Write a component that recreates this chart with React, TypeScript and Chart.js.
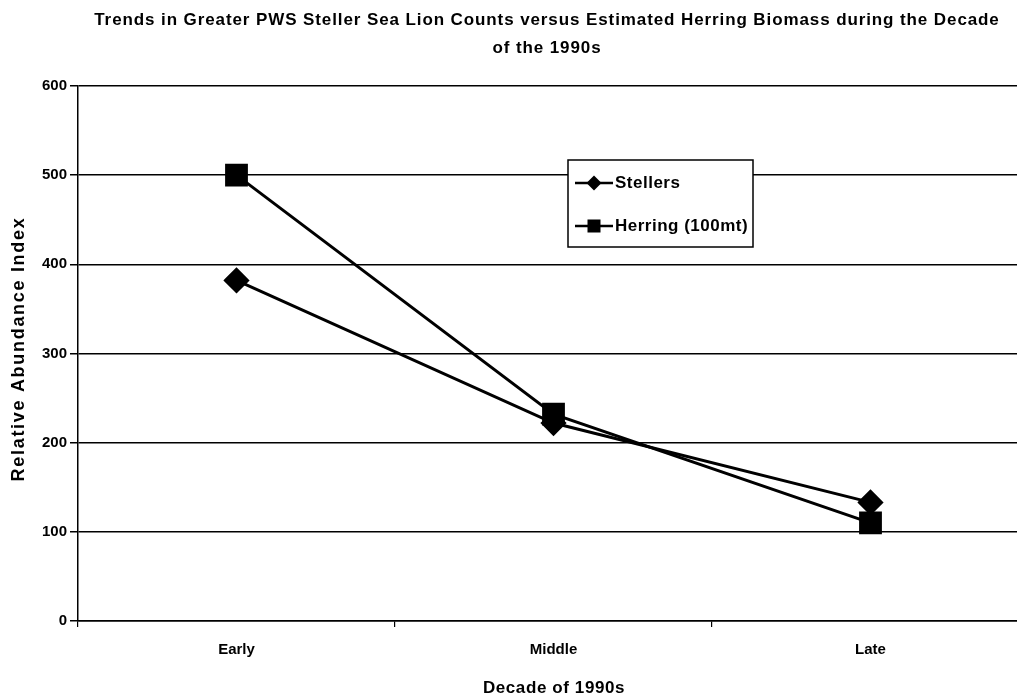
import React, { useEffect, useRef } from "react";
import { Chart, registerables } from "chart.js";

Chart.register(...registerables);

const categories = ["Early", "Middle", "Late"];
const stellers = [382, 222, 133];
const herring = [500, 232, 110];
const yTicks = [0, 100, 200, 300, 400, 500, 600];
const titleLines = [
  "Trends in Greater PWS Steller Sea Lion Counts versus Estimated Herring Biomass during the Decade",
  "of the 1990s",
];
const xTitle = "Decade of 1990s";
const yTitle = "Relative Abundance Index";
const legendLabels = ["Stellers", "Herring (100mt)"];

const FONT = "'Liberation Sans', Arial, sans-serif";
const CANVAS_W = 1046;

const textPlugin = {
  id: "customText",
  afterDraw(chart: any) {
    const ctx = chart.ctx;
    ctx.save();
    ctx.fillStyle = "#000";
    ctx.textAlign = "center";
    ctx.textBaseline = "middle";
    ctx.font = `bold 17px ${FONT}`;
    (ctx as any).letterSpacing = "0.9px";
    ctx.fillText(titleLines[0], 547, 20);
    ctx.fillText(titleLines[1], 547, 48);
    (ctx as any).letterSpacing = "0.6px";
    ctx.fillText(xTitle, 554, 688);
    ctx.translate(19, 349);
    ctx.rotate(-Math.PI / 2);
    ctx.font = `bold 18px ${FONT}`;
    (ctx as any).letterSpacing = "1.7px";
    ctx.fillText(yTitle, 0, 0);
    ctx.restore();
  },
};

const legendPlugin = {
  id: "customLegend",
  afterDraw(chart: any) {
    const ctx = chart.ctx;
    const x0 = 568, y0 = 160, w = 185, h = 87;
    ctx.save();
    ctx.fillStyle = "#fff";
    ctx.fillRect(x0, y0, w, h);
    ctx.strokeStyle = "#000";
    ctx.lineWidth = 1.5;
    ctx.strokeRect(x0, y0, w, h);
    const styles = ["diamond", "square"];
    const ys = [y0 + 23, y0 + 66];
    legendLabels.forEach((label, i) => {
      const y = ys[i];
      ctx.strokeStyle = "#000";
      ctx.lineWidth = 2.5;
      ctx.beginPath();
      ctx.moveTo(x0 + 7, y);
      ctx.lineTo(x0 + 45, y);
      ctx.stroke();
      ctx.fillStyle = "#000";
      const cx = x0 + 26;
      if (styles[i] === "diamond") {
        ctx.beginPath();
        ctx.moveTo(cx, y - 7.5);
        ctx.lineTo(cx + 7.5, y);
        ctx.lineTo(cx, y + 7.5);
        ctx.lineTo(cx - 7.5, y);
        ctx.closePath();
        ctx.fill();
      } else {
        ctx.fillRect(cx - 6.5, y - 6.5, 13, 13);
      }
      ctx.font = `bold 17px ${FONT}`;
      (ctx as any).letterSpacing = "0.5px";
      ctx.textAlign = "left";
      ctx.textBaseline = "middle";
      ctx.fillText(label, x0 + 47, y);
    });
    ctx.restore();
  },
};

export default function App() {
  const ref = useRef<HTMLCanvasElement | null>(null);
  useEffect(() => {
    if (!ref.current) return;
    const chart = new Chart(ref.current, {
      type: "line",
      data: {
        labels: categories,
        datasets: [
          {
            label: legendLabels[0],
            data: stellers,
            borderColor: "#000",
            backgroundColor: "#000",
            borderWidth: 3,
            pointStyle: "rectRot",
            pointRadius: 11,
            pointBackgroundColor: "#000",
            pointBorderColor: "#000",
            tension: 0,
          },
          {
            label: legendLabels[1],
            data: herring,
            borderColor: "#000",
            backgroundColor: "#000",
            borderWidth: 3,
            pointStyle: "rect",
            pointRadius: 14,
            pointBackgroundColor: "#000",
            pointBorderColor: "#000",
            tension: 0,
          },
        ],
      },
      options: {
        responsive: false,
        animation: false,
        devicePixelRatio: 1,
        layout: { padding: { top: 86, right: 2, left: 0, bottom: 0 } },
        plugins: {
          legend: { display: false },
          title: { display: false },
          tooltip: { enabled: false },
        },
        scales: {
          x: {
            offset: true,
            afterFit: (axis: any) => {
              axis.height = 78;
            },
            grid: {
              offset: true,
              drawOnChartArea: false,
              drawTicks: true,
              tickLength: 6,
              color: "#000",
              lineWidth: 1.2,
            },
            border: { color: "#000", width: 1.5 },
            ticks: {
              color: "#000",
              font: { family: FONT, weight: "bold", size: 15 },
              padding: 14,
            },
          },
          y: {
            min: 0,
            max: 600,
            afterFit: (axis: any) => {
              axis.width = 78;
            },
            afterBuildTicks: (axis: any) => {
              axis.ticks = yTicks.map((v) => ({ value: v }));
            },
            grid: {
              color: "#000",
              lineWidth: 1.5,
              tickLength: 8,
            },
            border: { color: "#000", width: 1.5 },
            ticks: {
              color: "#000",
              font: { family: FONT, weight: "bold", size: 15 },
              padding: 3,
            },
          },
        },
      },
      plugins: [textPlugin, legendPlugin],
    });
    return () => chart.destroy();
  }, []);
  return (
    <div
      style={{
        position: "fixed",
        left: 0,
        top: 0,
        width: 1017,
        height: 699,
        overflow: "hidden",
        background: "#fff",
      }}
    >
      <div style={{ width: CANVAS_W, height: 699 }}>
        <canvas
          ref={ref}
          width={CANVAS_W}
          height={699}
          style={{ display: "block", width: CANVAS_W, height: 699 }}
        />
      </div>
    </div>
  );
}
